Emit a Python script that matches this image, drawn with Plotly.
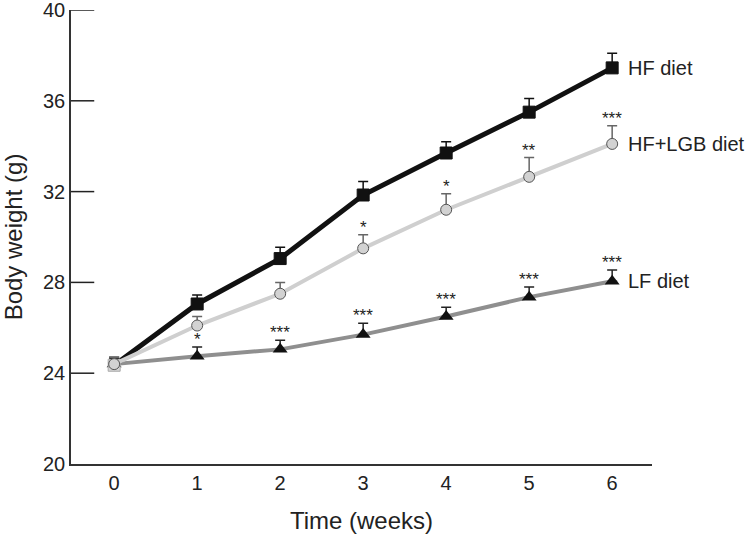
import plotly.graph_objects as go

weeks = [0, 1, 2, 3, 4, 5, 6]
hf = [24.35, 27.05, 29.05, 31.85, 33.7, 35.5, 37.45]
hf_err = [0.3, 0.4, 0.5, 0.6, 0.5, 0.6, 0.65]
lgb = [24.4, 26.1, 27.5, 29.5, 31.2, 32.65, 34.1]
lgb_err = [0.3, 0.4, 0.5, 0.6, 0.7, 0.85, 0.8]
lf = [24.4, 24.75, 25.05, 25.7, 26.5, 27.35, 28.05]
lf_err = [0.3, 0.4, 0.4, 0.5, 0.4, 0.45, 0.5]
lgb_stars = ["", "", "", "*", "*", "**", "***"]
lf_stars = ["", "*", "***", "***", "***", "***", "***"]
series_labels = ["HF diet", "HF+LGB diet", "LF diet"]
y_ticks = [20, 24, 28, 32, 36, 40]

FONT = "Liberation Sans, Arial, sans-serif"
fig = go.Figure()

def err(e):
    return dict(type="data", symmetric=False, array=e, arrayminus=[0]*len(e),
                thickness=1.5, width=5)

fig.add_trace(go.Scatter(
    x=weeks, y=lf, mode="lines+markers",
    line=dict(color="#8f8f8f", width=4),
    marker=dict(symbol="triangle-up", size=13, color="#111111"),
    error_y=dict(err(lf_err), color="#222222"), showlegend=False))
fig.add_trace(go.Scatter(
    x=weeks, y=hf, mode="lines+markers",
    line=dict(color="#111111", width=5),
    marker=dict(symbol="square", size=12,
                color=["#d4d4d4"] + ["#111111"] * (len(weeks) - 1),
                line=dict(color=["#aaaaaa"] + ["#111111"] * (len(weeks) - 1), width=1)),
    error_y=dict(err(hf_err), color="#111111"), showlegend=False))
fig.add_trace(go.Scatter(
    x=weeks, y=lgb, mode="lines+markers",
    line=dict(color="#cfcfcf", width=4),
    marker=dict(symbol="circle", size=11, color="#d2d2d2",
                line=dict(color="#555555", width=1)),
    error_y=dict(err(lgb_err), color="#666666"), showlegend=False))

annotations = []
for x, y, e, s in zip(weeks, lgb, lgb_err, lgb_stars):
    if s:
        annotations.append(dict(x=x, y=y + e, text=s, showarrow=False, yanchor="bottom",
                                yshift=-4, font=dict(family=FONT, size=17, color="#222")))
for x, y, e, s in zip(weeks, lf, lf_err, lf_stars):
    if s:
        annotations.append(dict(x=x, y=y + e, text=s, showarrow=False, yanchor="bottom",
                                yshift=-4, font=dict(family=FONT, size=17, color="#222")))
for lab, vals in zip(series_labels, [hf, lgb, lf]):
    annotations.append(dict(x=weeks[-1], y=vals[-1], text=lab, showarrow=False,
                            xanchor="left", xshift=14,
                            font=dict(family=FONT, size=20, color="#222")))

# inward y-axis tick marks
shapes = [dict(type="line", xref="x domain", yref="y", x0=0, x1=0.04, y0=t, y1=t,
               line=dict(color="#222222", width=1.5), layer="above")
          for t in y_ticks[1:]]

fig.update_layout(
    width=750, height=539,
    margin=dict(l=71, r=98, t=10, b=75),
    paper_bgcolor="white", plot_bgcolor="white",
    font=dict(family=FONT, size=20, color="#222"),
    annotations=annotations,
    shapes=shapes,
    xaxis=dict(range=[-0.52, 6.48], tickvals=weeks, ticks="", showgrid=False,
               zeroline=False, showline=True, linecolor="#333", linewidth=1.5,
               automargin=False, ticklabeloverflow="allow",
               title=dict(text="Time (weeks)", font=dict(size=24), standoff=19),
               tickfont=dict(size=20)),
    yaxis=dict(range=[20, 40], tickvals=y_ticks, ticks="", showgrid=False,
               zeroline=False, showline=True, linecolor="#333", linewidth=1.5,
               automargin=False, ticklabeloverflow="allow",
               title=dict(text="Body weight (g)", font=dict(size=24), standoff=14),
               tickfont=dict(size=20)),
)

fig.write_html("out.html", post_script="document.body.style.margin='0px';",
               config={"displayModeBar": False})
